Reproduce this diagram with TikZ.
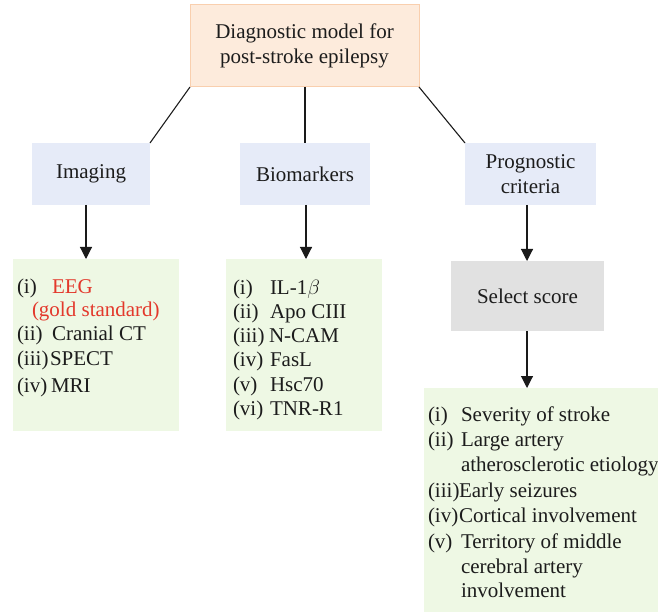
\documentclass[tikz,border=0pt]{standalone}
\usepackage{fontspec}
\setmainfont{Liberation Serif}
\usetikzlibrary{arrows.meta}
\definecolor{peachfill}{HTML}{FDEBDC}
\definecolor{peachline}{HTML}{F9CFAE}
\definecolor{bluefill}{HTML}{E6EBF8}
\definecolor{greenfill}{HTML}{EEF8E4}
\definecolor{grayfill}{HTML}{E1E1E1}
\definecolor{redtext}{HTML}{E3382B}
\definecolor{linecol}{HTML}{1A1A1A}
\definecolor{textcol}{HTML}{1C1C1C}
\begin{document}
\begin{tikzpicture}[x=1pt,y=-1pt,
  box/.style={inner sep=0pt, outer sep=0pt, anchor=center, align=center,
    font=\fontsize{21}{24.5}\selectfont, text=textcol},
  topbox/.style={box, fill=peachfill, draw=peachline, line width=1pt},
  catbox/.style={box, fill=bluefill},
  listbox/.style={box, fill=greenfill},
  scorebox/.style={box, fill=grayfill},
  item/.style={inner sep=0pt, outer sep=0pt, anchor=base west,
    font=\fontsize{21}{24}\selectfont, text=textcol},
  conn/.style={draw=linecol, line width=1.1pt},
  arr/.style={conn, -{Triangle[width=12pt,length=12pt]}}]
\useasboundingbox (0,0) rectangle (658,612);

% boxes
\node[topbox, minimum width=229pt, minimum height=82pt] (top) at (304.5,46)
  {Diagnostic model for\\post-stroke epilepsy};
\node[catbox, minimum width=118pt, minimum height=62pt] (img) at (91,174) {Imaging};
\node[catbox, minimum width=130pt, minimum height=62pt] (bio) at (305,174) {Biomarkers};
\node[catbox, minimum width=131pt, minimum height=62pt] (prog) at (530.5,174) {Prognostic\\criteria};
\node[listbox, minimum width=166pt, minimum height=172pt] (imglist) at (96,345) {};
\node[listbox, minimum width=156pt, minimum height=172pt] (biolist) at (304,345) {};
\node[scorebox, minimum width=153pt, minimum height=70pt] (score) at (527.5,296) {Select score};
\node[listbox, minimum width=240pt, minimum height=230pt] (critlist) at (544,503) {};

% connectors
\draw[conn] (top.south west) -- (img.north east);
\draw[conn] (top.south -| bio.north) -- (bio.north);
\draw[conn] (top.south east) -- (prog.north west);
\draw[arr] (img.south -| 86,0) -- (imglist.north -| 86,0);
\draw[arr] (bio.south -| 306,0) -- (biolist.north -| 306,0);
\draw[arr] (prog.south -| 527,0) -- (score.north -| 527,0);
\draw[arr] (score.south -| 527,0) -- (critlist.north -| 527,0);

% imaging list
\node[item] (i1) at (17,293) {(i)};
\node[item, text=redtext] (i1t) at (52,293) {EEG};
\node[item, text=redtext] (i1u) at (32,316) {(gold standard)};
\node[item] (i2) at (17,340) {(ii)};
\node[item] (i2t) at (52,340) {Cranial CT};
\node[item] (i3) at (17,365) {(iii)};
\node[item] (i3t) at (50,365) {SPECT};
\node[item] (i4) at (17,392) {(iv)};
\node[item] (i4t) at (51,392) {MRI};

% biomarker list
\node[item] (b1) at (233,294) {(i)};
\node[item] (b1t) at (270,294) {IL-1$\beta$};
\node[item] (b2) at (233,318) {(ii)};
\node[item] (b2t) at (270,318) {Apo CIII};
\node[item] (b3) at (233,342) {(iii)};
\node[item] (b3t) at (269,342) {N-CAM};
\node[item] (b4) at (233,366) {(iv)};
\node[item] (b4t) at (270,366) {FasL};
\node[item] (b5) at (233,391) {(v)};
\node[item] (b5t) at (270,391) {Hsc70};
\node[item] (b6) at (233,415) {(vi)};
\node[item] (b6t) at (270,415) {TNR-R1};

% criteria list
\node[item] (c1) at (428,421) {(i)};
\node[item] (c1t) at (461,421) {Severity of stroke};
\node[item] (c2) at (428,446) {(ii)};
\node[item] (c2t) at (461,446) {Large artery};
\node[item] (c2u) at (461,471) {atherosclerotic etiology};
\node[item] (c3) at (428,497) {(iii)};
\node[item] (c3t) at (459,497) {Early seizures};
\node[item] (c4) at (428,522) {(iv)};
\node[item] (c4t) at (459,522) {Cortical involvement};
\node[item] (c5) at (428,548) {(v)};
\node[item] (c5t) at (461,548) {Territory of middle};
\node[item] (c5u) at (461,573) {cerebral artery};
\node[item] (c5v) at (461,597) {involvement};
\end{tikzpicture}
\end{document}
